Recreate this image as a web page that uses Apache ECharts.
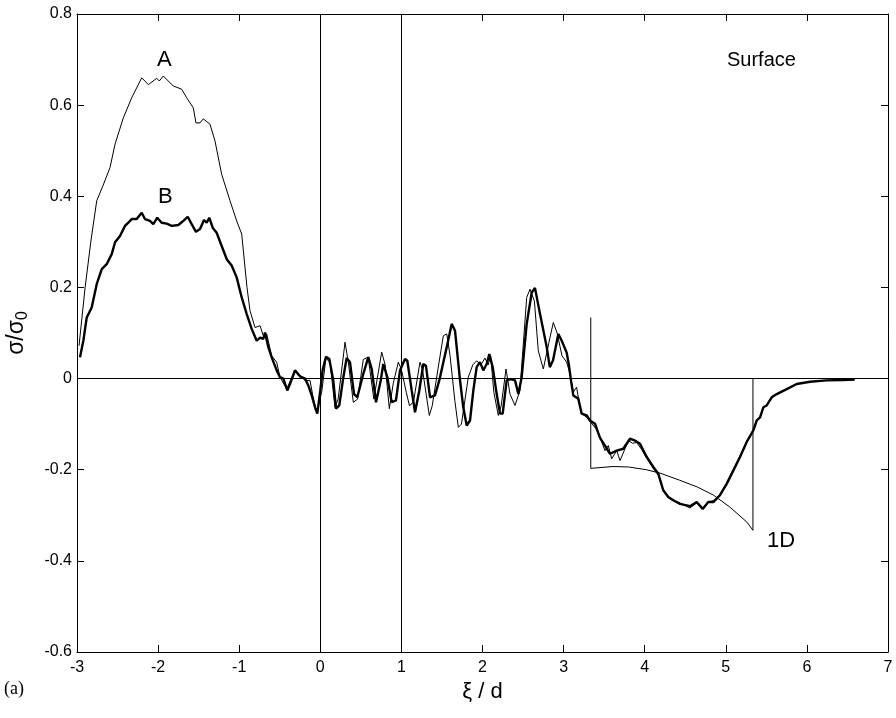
<!DOCTYPE html>
<html>
<head>
<meta charset="utf-8">
<script src="https://cdn.jsdelivr.net/npm/echarts@6/dist/echarts.min.js"></script>
<style>
  html, body { margin: 0; padding: 0; background: #fff; }
  #chart { width: 896px; height: 718px; }
</style>
</head>
<body>
<div id="chart"></div>
<script>
// curve A (thin line)
var xA = [-2.975, -2.900, -2.830, -2.757, -2.680, -2.593, -2.530, -2.429, -2.326, -2.202,
  -2.120, -2.017, -1.985, -1.936, -1.813, -1.709, -1.647, -1.566, -1.533, -1.483,
  -1.443, -1.360, -1.298, -1.216, -1.113, -1.031, -0.969, -0.904, -0.867, -0.805,
  -0.743, -0.703, -0.661, -0.600, -0.538, -0.497, -0.414, -0.312, -0.230, -0.189,
  -0.127, -0.090, -0.044, 0.017, 0.070, 0.120, 0.181, 0.220, 0.305, 0.350,
  0.407, 0.460, 0.530, 0.590, 0.660, 0.757, 0.800, 0.851, 0.900, 0.962,
  1.000, 1.060, 1.100, 1.150, 1.229, 1.260, 1.344, 1.380, 1.450, 1.517,
  1.559, 1.600, 1.660, 1.702, 1.740, 1.825, 1.880, 1.928, 1.980, 2.030,
  2.070, 2.100, 2.140, 2.195, 2.230, 2.290, 2.339, 2.401, 2.462, 2.545,
  2.586, 2.640, 2.688, 2.750, 2.820, 2.873, 2.920, 2.980, 3.038, 3.080,
  3.120, 3.160, 3.200, 3.223, 3.285, 3.330, 3.400, 3.449, 3.510, 3.551,
  3.593, 3.655, 3.696, 3.757, 3.798, 3.850, 3.900, 3.960, 4.025, 4.106,
  4.168, 4.229, 4.291, 4.353, 4.435, 4.558, 4.641, 4.715, 4.784, 4.846,
  4.928, 5.011, 5.092, 5.175, 5.258, 5.339];
var yA = [0.072, 0.200, 0.300, 0.390, 0.423, 0.463, 0.515, 0.572, 0.616, 0.660,
  0.645, 0.659, 0.653, 0.664, 0.642, 0.635, 0.616, 0.594, 0.561, 0.561,
  0.570, 0.558, 0.521, 0.448, 0.390, 0.346, 0.317, 0.200, 0.149, 0.112,
  0.116, 0.094, 0.098, 0.050, 0.036, 0.003, -0.023, 0.018, 0.003, -0.004,
  -0.004, -0.040, -0.075, -0.030, 0.045, 0.035, -0.063, -0.045, 0.080, 0.030,
  -0.052, -0.045, 0.042, 0.047, -0.045, 0.058, 0.030, -0.066, -0.010, 0.036,
  0.020, -0.030, -0.060, -0.050, 0.036, 0.020, -0.081, -0.060, 0.020, 0.094,
  0.098, 0.050, -0.050, -0.107, -0.100, 0.003, 0.030, 0.039, 0.030, 0.045,
  0.030, 0.050, -0.030, -0.081, -0.060, 0.021, -0.034, -0.059, -0.026, 0.178,
  0.196, 0.170, 0.061, 0.021, 0.080, 0.123, 0.100, 0.050, 0.036, 0.010,
  -0.030, -0.019, -0.060, -0.077, -0.085, -0.095, -0.110, -0.129, -0.158, -0.147,
  -0.176, -0.158, -0.180, -0.154, -0.136, -0.142, -0.140, -0.155, -0.175, -0.197,
  -0.212, -0.245, -0.262, -0.268, -0.273, -0.284, -0.273, -0.284, -0.271, -0.268,
  -0.254, -0.229, -0.200, -0.170, -0.138, -0.112];

// curve B (thick line)
var xB = [-2.963, -2.922, -2.880, -2.819, -2.757, -2.695, -2.634, -2.572, -2.531, -2.470,
  -2.408, -2.367, -2.326, -2.264, -2.202, -2.162, -2.100, -2.059, -2.010, -1.956,
  -1.894, -1.832, -1.751, -1.689, -1.635, -1.586, -1.533, -1.483, -1.434, -1.401,
  -1.369, -1.327, -1.278, -1.216, -1.154, -1.093, -1.031, -0.969, -0.908, -0.846,
  -0.784, -0.743, -0.703, -0.682, -0.641, -0.600, -0.538, -0.497, -0.456, -0.407,
  -0.374, -0.312, -0.250, -0.189, -0.148, -0.106, -0.065, -0.037, 0.000, 0.030,
  0.070, 0.111, 0.160, 0.194, 0.234, 0.284, 0.325, 0.366, 0.416, 0.456,
  0.530, 0.592, 0.634, 0.687, 0.745, 0.777, 0.826, 0.880, 0.933, 0.983,
  1.044, 1.073, 1.127, 1.168, 1.221, 1.270, 1.303, 1.353, 1.414, 1.467,
  1.559, 1.620, 1.661, 1.723, 1.763, 1.805, 1.846, 1.887, 1.928, 1.969,
  2.010, 2.052, 2.084, 2.126, 2.175, 2.216, 2.249, 2.298, 2.348, 2.401,
  2.442, 2.483, 2.545, 2.607, 2.647, 2.709, 2.792, 2.830, 2.870, 2.935,
  2.977, 3.038, 3.067, 3.091, 3.120, 3.181, 3.223, 3.285, 3.325, 3.387,
  3.449, 3.510, 3.572, 3.655, 3.736, 3.819, 3.880, 3.942, 4.025, 4.106,
  4.168, 4.229, 4.291, 4.353, 4.435, 4.558, 4.641, 4.715, 4.784, 4.846,
  4.928, 5.011, 5.092, 5.175, 5.258, 5.339, 5.381, 5.422, 5.463, 5.504,
  5.566, 5.628, 5.751, 5.874, 6.038, 6.244, 6.445, 6.590];
var yB = [0.047, 0.083, 0.134, 0.156, 0.207, 0.240, 0.251, 0.273, 0.299, 0.313,
  0.335, 0.342, 0.350, 0.350, 0.364, 0.350, 0.346, 0.339, 0.353, 0.342,
  0.340, 0.335, 0.337, 0.346, 0.355, 0.339, 0.322, 0.328, 0.348, 0.342,
  0.353, 0.331, 0.320, 0.291, 0.262, 0.248, 0.222, 0.178, 0.142, 0.109,
  0.083, 0.090, 0.087, 0.101, 0.069, 0.047, 0.018, 0.003, 0.000, -0.026,
  -0.012, 0.018, 0.005, 0.000, -0.015, -0.037, -0.063, -0.077, -0.026, 0.020,
  0.048, 0.043, -0.004, -0.066, -0.059, 0.003, 0.045, 0.036, -0.034, -0.041,
  0.010, 0.047, 0.021, -0.052, -0.004, 0.032, 0.003, -0.052, -0.048, 0.018,
  0.043, 0.039, -0.026, -0.074, -0.026, 0.032, 0.028, -0.041, -0.037, -0.004,
  0.069, 0.120, 0.105, -0.004, -0.063, -0.103, -0.092, -0.026, 0.025, 0.036,
  0.018, 0.032, 0.054, 0.025, -0.034, -0.077, -0.077, -0.004, -0.001, -0.004,
  -0.034, 0.003, 0.120, 0.189, 0.199, 0.142, 0.069, 0.025, 0.040, 0.098,
  0.083, 0.057, 0.028, -0.004, -0.037, -0.044, -0.077, -0.081, -0.092, -0.099,
  -0.130, -0.147, -0.165, -0.158, -0.154, -0.132, -0.136, -0.143, -0.172, -0.194,
  -0.209, -0.245, -0.260, -0.267, -0.275, -0.280, -0.271, -0.286, -0.271, -0.271,
  -0.256, -0.231, -0.202, -0.172, -0.139, -0.114, -0.092, -0.085, -0.063, -0.059,
  -0.041, -0.034, -0.023, -0.012, -0.007, -0.004, -0.003, -0.002];

// 1D model
var x1D = [3.335, 3.335, 3.61, 3.80, 4.02, 4.20, 4.43, 4.65, 4.85, 5.05, 5.26, 5.335, 5.335];
var y1D = [0.134, -0.197, -0.193, -0.194, -0.200, -0.208, -0.223, -0.238, -0.256, -0.282, -0.315, -0.333, 0];

var xTicks = { min: -3, max: 7, interval: 1 };
var yTicks = { min: -0.6, max: 0.8, interval: 0.2 };

function zip(xs, ys) {
  return xs.map(function (x, i) { return [x, ys[i]]; });
}

var chart = echarts.init(document.getElementById("chart"));
var font = "Liberation Sans";

function axisBase(extra) {
  var a = {
    type: "value",
    axisLine: { show: true, onZero: false, lineStyle: { color: "#000", width: 1 } },
    axisTick: { show: true, inside: true, length: 7, lineStyle: { color: "#000" } },
    splitLine: { show: false },
    axisLabel: { show: false }
  };
  return Object.assign(a, extra);
}

var option = {
  animation: false,
  backgroundColor: "#fff",
  grid: { left: 77, right: 8, top: 14, bottom: 66, outerBoundsMode: "none", containLabel: false },
  xAxis: [
    axisBase({
      min: xTicks.min, max: xTicks.max, interval: xTicks.interval,
      position: "bottom",
      name: "ξ / d",
      nameLocation: "middle",
      nameGap: 26,
      nameTextStyle: { fontFamily: font, fontSize: 22, color: "#000" },
      axisLabel: { show: true, margin: 8, fontFamily: font, fontSize: 16, color: "#000" }
    }),
    axisBase({ min: xTicks.min, max: xTicks.max, interval: xTicks.interval, position: "top" })
  ],
  yAxis: [
    axisBase({
      min: yTicks.min, max: yTicks.max, interval: yTicks.interval,
      position: "left",
      name: "{s|σ/σ}{sub|0}",
      nameLocation: "middle",
      nameGap: 46,
      nameRotate: 90,
      nameTextStyle: {
        fontFamily: font, color: "#000",
        rich: {
          s: { fontFamily: font, fontSize: 23, color: "#000", lineHeight: 28 },
          sub: { fontFamily: font, fontSize: 16, color: "#000", lineHeight: 28, padding: [11, 0, 0, 0] }
        }
      },
      axisLabel: {
        show: true, margin: 5, fontFamily: font, fontSize: 16, color: "#000",
        formatter: function (v) { return String(+v.toFixed(1)); }
      }
    }),
    axisBase({ min: yTicks.min, max: yTicks.max, interval: yTicks.interval, position: "right" })
  ],
  series: [
    {
      name: "A",
      type: "line",
      data: zip(xA, yA),
      showSymbol: false,
      lineStyle: { color: "#000", width: 1 },
      markLine: {
        silent: true,
        symbol: "none",
        label: { show: false },
        lineStyle: { color: "#000", width: 1, type: "solid" },
        data: [{ xAxis: 0 }, { xAxis: 1 }, { yAxis: 0 }]
      },
      z: 3
    },
    {
      name: "B",
      type: "line",
      data: zip(xB, yB),
      showSymbol: false,
      lineStyle: { color: "#000", width: 2.4 },
      z: 4
    },
    {
      name: "1D",
      type: "line",
      data: zip(x1D, y1D),
      showSymbol: false,
      lineStyle: { color: "#000", width: 1 },
      z: 2
    }
  ],
  graphic: [
    { type: "text", left: 157, top: 49, style: { text: "A", font: "22px " + font, fill: "#000" } },
    { type: "text", left: 158, top: 186, style: { text: "B", font: "22px " + font, fill: "#000" } },
    { type: "text", left: 727, top: 50, style: { text: "Surface", font: "20px " + font, fill: "#000" } },
    { type: "text", left: 767, top: 530, style: { text: "1D", font: "22px " + font, fill: "#000" } },
    { type: "text", left: 4, top: 680, style: { text: "(a)", font: "18px 'Liberation Serif'", fill: "#000" } }
  ]
};

chart.setOption(option);
</script>
</body>
</html>
